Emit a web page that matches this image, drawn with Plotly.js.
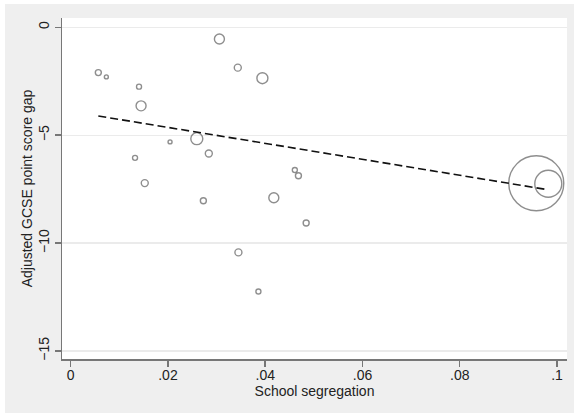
<!DOCTYPE html>
<html>
<head>
<meta charset="utf-8">
<script src="https://cdn.plot.ly/plotly-3.0.1.min.js"></script>
<style>
html,body{margin:0;padding:0;background:#ffffff;}
#chart{position:absolute;left:5px;top:4px;width:569px;height:409px;}
</style>
</head>
<body>
<div id="chart"></div>
<script>
// School segregation (x) vs adjusted GCSE point score gap (y), marker size = weight
const segregation = [0.00568, 0.00733, 0.01405, 0.01447, 0.01323, 0.01523, 0.02043, 0.02593, 0.0284, 0.02728,
  0.03058, 0.03436, 0.03942, 0.04609, 0.04683, 0.04177, 0.04842, 0.03449, 0.0386, 0.09574, 0.09821];
const scoreGap = [-2.10, -2.30, -2.75, -3.64, -6.05, -7.22, -5.31, -5.16, -5.85, -8.04,
  -0.54, -1.87, -2.36, -6.61, -6.88, -7.90, -9.07, -10.43, -12.24, -7.23, -7.25];
const weight = [6, 4, 5, 10, 5, 7, 4, 12, 7, 6,
  10, 7, 11, 5, 6, 10, 6, 7, 5, 55, 27];
// fitted line endpoints
const fitX = [0.00568, 0.09821];
const fitY = [-4.11, -7.53];
const xTicks = [0, 0.02, 0.04, 0.06, 0.08, 0.1];
const xTickText = ["0", ".02", ".04", ".06", ".08", ".1"];
const yTicks = [0, -5, -10, -15];
const yTickText = ["0", "\u22125", "\u221210", "\u221215"];

const traces = [
  {
    x: segregation, y: scoreGap, mode: 'markers', type: 'scatter',
    marker: {size: weight, sizemode: 'diameter', sizeref: 1,
      color: 'rgba(0,0,0,0)', line: {color: '#5f5f5f', width: 1.4}},
    cliponaxis: false
  },
  {
    x: fitX, y: fitY, mode: 'lines', type: 'scatter',
    line: {color: '#111111', width: 1.6, dash: '8px,4px'}
  }
];

const layout = {
  width: 569, height: 409,
  paper_bgcolor: '#efefef', plot_bgcolor: '#ffffff',
  showlegend: false,
  margin: {l: 57, r: 7, t: 14, b: 54},
  font: {family: '"Liberation Sans", Arial, sans-serif', size: 14, color: '#222'},
  xaxis: {
    range: [-0.00179, 0.10206], tickvals: xTicks, ticktext: xTickText,
    showgrid: false, zeroline: false, showline: true, linecolor: '#777', linewidth: 1.5,
    ticks: 'outside', ticklen: 6, tickcolor: '#777', tickwidth: 1.5,
    ticklabelstandoff: -3,
    tickfont: {size: 14, color: '#222'},
    title: {text: 'School segregation', font: {size: 14, color: '#222'}, standoff: 0}
  },
  yaxis: {
    range: [-15.37, 0.43], tickvals: yTicks, ticktext: yTickText, tickangle: -90,
    showgrid: true, gridcolor: '#ebebeb', gridwidth: 1.3,
    zeroline: false, showline: true, linecolor: '#777', linewidth: 1.5,
    ticks: 'outside', ticklen: 6, tickcolor: '#777', tickwidth: 1.5,
    tickfont: {size: 14, color: '#222'},
    title: {text: 'Adjusted GCSE point score gap', font: {size: 14, color: '#222'}, standoff: 0}
  }
};

Plotly.newPlot('chart', traces, layout, {staticPlot: true, displayModeBar: false});
</script>
</body>
</html>
